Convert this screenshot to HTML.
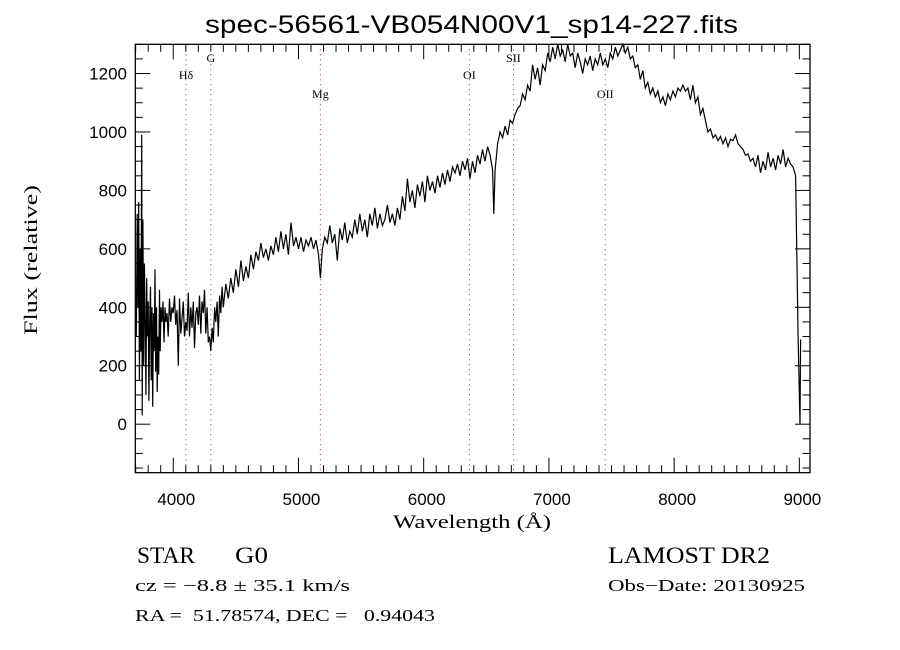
<!DOCTYPE html>
<html><head><meta charset="utf-8">
<style>
html,body{margin:0;padding:0;background:#fff;}
svg{display:block;}
.t{font-family:"Liberation Sans",sans-serif;fill:#000;}
.s{font-family:"Liberation Serif",serif;fill:#000;white-space:pre;}
</style></head>
<body>
<svg id="chart" width="900" height="650" viewBox="0 0 900 650">
<rect x="0" y="0" width="900" height="650" fill="#fff"/>
<text class="t" x="205" y="33" font-size="25" textLength="533" lengthAdjust="spacingAndGlyphs">spec-56561-VB054N00V1_sp14-227.fits</text>
<g id="lines"></g>
<g id="axes"></g>
<g id="series"></g>
<text class="s" x="393" y="528" font-size="19" textLength="158" lengthAdjust="spacingAndGlyphs">Wavelength (Å)</text>
<text class="s" x="37" y="335" font-size="19" textLength="150" lengthAdjust="spacingAndGlyphs" transform="rotate(-90 37 335)">Flux (relative)</text>
<text class="s" x="137" y="563" font-size="23" textLength="58" lengthAdjust="spacingAndGlyphs">STAR</text>
<text class="s" x="235" y="563" font-size="23" textLength="33" lengthAdjust="spacingAndGlyphs">G0</text>
<text class="s" x="135" y="591" font-size="17" textLength="215" lengthAdjust="spacingAndGlyphs">cz = −8.8 ± 35.1 km/s</text>
<text class="s" x="135" y="621" font-size="17" textLength="300" lengthAdjust="spacingAndGlyphs">RA =  51.78574, DEC =   0.94043</text>
<text class="s" x="608" y="563" font-size="23" textLength="162" lengthAdjust="spacingAndGlyphs">LAMOST DR2</text>
<text class="s" x="608" y="591" font-size="17" textLength="197" lengthAdjust="spacingAndGlyphs">Obs−Date: 20130925</text>
</svg>
<script>
const xTicks = [4000,5000,6000,7000,8000,9000];
const yTicks = [0,200,400,600,800,1000,1200];
const lineNames = ["Hδ","G","Mg","OI","SII","OII"];
const lineWaves = [4102,4300,5175,6365,6717,7450];
const waves = [3705,3712,3718,3724,3730,3736,3742,3748,3752,3758,3764,3770,3776,3782,3788,3794,3800,3806,3812,3818,3824,3830,3836,3842,3848,3854,3860,3866,3872,3878,3884,3890,3896,3902,3910,3918,3926,3934,3942,3950,3960,3970,3980,3990,4000,4010,4020,4030,4040,4050,4060,4070,4080,4090,4100,4110,4120,4130,4140,4150,4160,4170,4180,4190,4200,4210,4220,4230,4240,4250,4260,4270,4280,4290,4300,4310,4320,4330,4340,4350,4360,4370,4380,4390,4400,4420,4440,4460,4480,4500,4520,4540,4560,4580,4600,4620,4640,4660,4680,4700,4720,4740,4760,4780,4800,4820,4840,4860,4880,4900,4920,4940,4960,4980,5000,5020,5040,5060,5080,5100,5120,5140,5160,5175,5190,5210,5230,5250,5270,5290,5310,5330,5350,5370,5390,5410,5430,5450,5470,5490,5510,5530,5550,5570,5590,5610,5630,5650,5670,5690,5710,5730,5750,5770,5790,5810,5830,5850,5870,5890,5910,5930,5950,5970,5990,6010,6030,6050,6070,6090,6110,6130,6150,6170,6190,6210,6230,6250,6270,6290,6310,6330,6350,6370,6390,6410,6430,6450,6470,6490,6510,6530,6550,6560,6570,6590,6610,6630,6650,6670,6690,6710,6730,6750,6770,6790,6810,6830,6850,6870,6890,6910,6930,6950,6970,6990,7010,7030,7050,7070,7090,7110,7130,7150,7170,7190,7210,7230,7250,7270,7290,7310,7330,7350,7370,7390,7410,7430,7450,7470,7490,7510,7530,7550,7570,7590,7610,7630,7650,7670,7690,7710,7730,7750,7770,7790,7810,7830,7850,7870,7890,7910,7930,7950,7970,7990,8010,8030,8050,8070,8090,8110,8130,8150,8170,8190,8210,8230,8250,8270,8290,8310,8330,8350,8370,8390,8410,8430,8450,8470,8490,8510,8530,8550,8570,8590,8610,8630,8650,8670,8690,8710,8730,8750,8770,8790,8810,8830,8850,8870,8890,8910,8930,8950,8970,8990,9005,9010,9013];
const flux = [300,720,400,760,150,600,250,990,30,700,200,550,350,100,500,300,420,80,350,470,150,400,60,380,250,530,180,400,110,300,170,460,250,400,350,420,280,400,350,380,300,430,350,400,380,440,340,390,200,430,310,360,420,300,350,320,450,300,400,330,420,260,380,400,340,440,310,420,380,460,310,400,280,300,250,330,280,400,350,420,300,440,380,470,400,480,430,500,450,530,470,560,490,540,500,580,530,590,560,620,570,600,560,610,580,640,590,660,600,650,580,690,610,640,600,640,590,630,610,640,600,630,580,500,600,640,620,680,620,650,560,670,630,690,620,660,640,700,650,720,660,700,640,720,680,740,670,720,680,700,750,690,720,680,740,700,780,730,840,760,800,740,820,780,830,760,850,800,830,790,850,810,860,820,870,830,880,860,890,850,900,870,910,840,900,860,920,890,940,900,950,920,870,720,870,960,1000,980,1020,990,1040,1030,1060,1080,1090,1130,1110,1160,1140,1230,1180,1220,1160,1230,1210,1270,1240,1290,1250,1300,1260,1280,1240,1300,1260,1270,1220,1270,1240,1200,1250,1230,1260,1210,1250,1230,1270,1230,1250,1220,1270,1250,1290,1260,1280,1300,1270,1290,1250,1260,1220,1230,1180,1210,1150,1170,1130,1150,1120,1140,1100,1120,1090,1130,1110,1140,1120,1150,1140,1160,1140,1150,1110,1160,1100,1120,1060,1080,1040,1000,1010,980,990,970,985,960,980,950,975,970,990,960,950,940,920,925,900,910,880,920,860,900,870,930,880,910,870,920,890,940,880,910,890,880,850,300,0,290];

const X0=135.3, X1=810, Y0=44.3, Y1=472.7;
const XMIN=3697, XMAX=9085, YMIN=-166, YMAX=1300;
function sx(v){return X0+(v-XMIN)/(XMAX-XMIN)*(X1-X0);}
function sy(v){return Y1-(v-YMIN)/(YMAX-YMIN)*(Y1-Y0);}
const NS="http://www.w3.org/2000/svg";
function mk(tag,attrs,parent){const e=document.createElementNS(NS,tag);for(const k in attrs)e.setAttribute(k,attrs[k]);parent.appendChild(e);return e;}

const axes=document.getElementById('axes');
const frame=mk('rect',{x:X0,y:Y0,width:X1-X0,height:Y1-Y0,fill:'none',stroke:'#000','stroke-width':1.3},axes);


for(let v=3700; v<=9080; v+=100){
  const major = v%1000===0; const L = major?15:7.5; const x=sx(v);
  const t1=mk('line',{x1:x,x2:x,y1:Y1,y2:Y1-L,stroke:'#000','stroke-width':1},axes);
  
  
  const t2=mk('line',{x1:x,x2:x,y1:Y0,y2:Y0+L,stroke:'#000','stroke-width':1},axes);
  
  
}
for(let v=-150; v<=1300; v+=50){
  const major = v%200===0; const L = major?15:7.5; const y=sy(v);
  const t1=mk('line',{x1:X0,x2:X0+L,y1:y,y2:y,stroke:'#000','stroke-width':1},axes);
  
  
  const t2=mk('line',{x1:X1,x2:X1-L,y1:y,y2:y,stroke:'#000','stroke-width':1},axes);
  
  
}
xTicks.forEach(v=>{
  const t=mk('text',{x:sx(v)+3,y:505,'font-size':17,'text-anchor':'middle',class:'t'},axes);
  t.textContent=v;
  
  
});
yTicks.forEach(v=>{
  const t=mk('text',{x:127,y:sy(v)+6,'font-size':17,'text-anchor':'end',class:'t'},axes);
  t.textContent=v;
  
  
});
const lg=document.getElementById('lines');
const labelY=[79,62,98,79,62,98];
lineWaves.forEach((w,i)=>{
  const x=sx(w);
  const l=mk('line',{x1:x,x2:x,y1:Y0,y2:Y1,stroke:'#8a3a3a','stroke-width':1,'stroke-dasharray':'1 4'},lg);
  
  
  const t=mk('text',{x:x,y:labelY[i],'font-size':12,'text-anchor':'middle',class:'s'},lg);
  t.textContent=lineNames[i];
  
  
});
const sg=document.getElementById('series');
const d=waves.map((w,i)=>(i?'L':'M')+sx(w).toFixed(1)+','+sy(flux[i]).toFixed(1)).join(' ');
const p=mk('path',{d:d,fill:'none',stroke:'#000','stroke-width':1.2,'stroke-linejoin':'miter'},sg);


</script>
</body></html>
